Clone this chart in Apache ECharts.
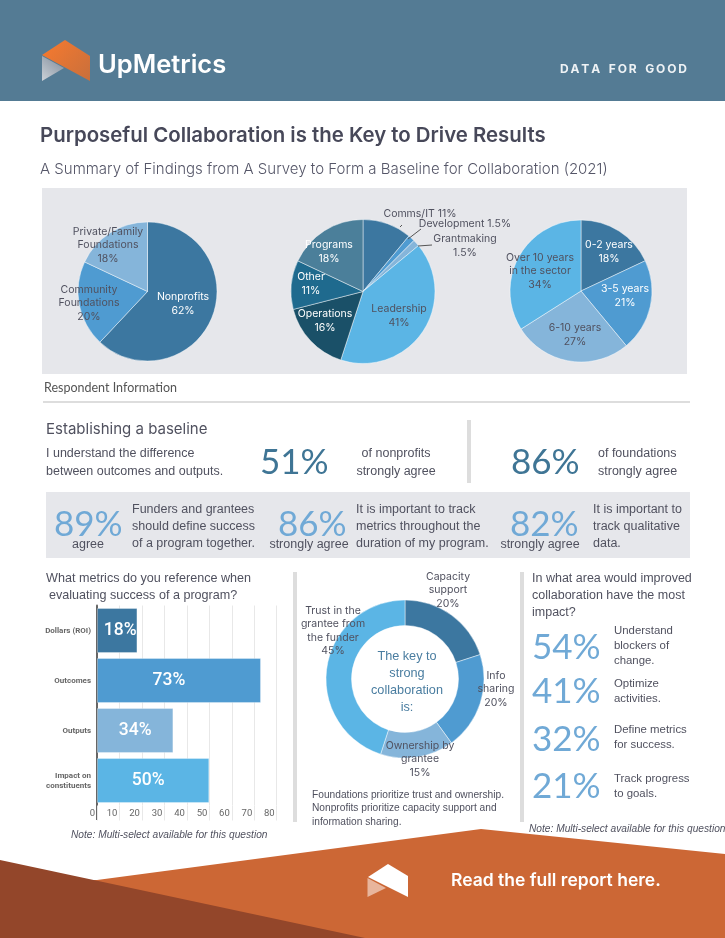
<!DOCTYPE html>
<html>
<head>
<meta charset="utf-8">
<style>
  html, body { margin: 0; padding: 0; background: #fff; }
  #chart-container { width: 725px; height: 938px; }
</style>
</head>
<body>
<div id="chart-container"></div>
<script src="https://cdn.jsdelivr.net/npm/echarts@6/dist/echarts.min.js"></script>
<script>
var dom = document.getElementById('chart-container');
var myChart = echarts.init(dom, null, { renderer: 'canvas' });

// data
var orgNames = ['Nonprofits', 'Community\nFoundations', 'Private/Family\nFoundations'];
var orgValues = [62, 20, 18];
var roleNames = ['Comms/IT', 'Development', 'Grantmaking', 'Leadership', 'Operations', 'Other', 'Programs'];
var roleValues = [11, 1.5, 1.5, 41, 16, 11, 18];
var tenureNames = ['0-2 years', '3-5 years', '6-10 years', 'Over 10 years\nin the sector'];
var tenureValues = [18, 21, 27, 34];
var keyNames = ['Capacity\nsupport', 'Info\nsharing', 'Ownership by\ngrantee', 'Trust in the\ngrantee from\nthe funder'];
var keyValues = [20, 20, 15, 45];
var metricNames = ['Dollars (ROI)', 'Outcomes', 'Outputs', 'Impact on\nconstituents'];
var metricValues = [18, 73, 34, 50];

// colours
var BLUE1 = '#3c77a0';
var BLUE2 = '#4f9bd1';
var BLUE3 = '#85b5da';
var BLUE4 = '#5bb5e5';
var INK = '#50515f';
var STAT = '#70a9d6';
var STAT_DARK = '#3f7595';
var GREY = '#e6e7eb';
var RULE = '#dddddd';

var orgColors = [BLUE1, BLUE2, BLUE3];
var roleColors = [BLUE1, BLUE2, BLUE3, BLUE4, '#1a5068', '#1f6a8e', '#4b7f9a'];
var tenureColors = [BLUE1, BLUE2, BLUE3, BLUE4];
var keyColors = [BLUE1, BLUE2, BLUE3, BLUE4];
var metricColors = [BLUE1, BLUE2, BLUE3, BLUE4];

// label anchors, page pixels
var orgLabelPos = [[183, 304], [89, 303], [108, 245]];
var roleLabelPos = [[420, 214], [465, 224], [465, 246], [399, 316], [325, 321], [311, 284], [329, 252]];
var tenureLabelPos = [[609, 252], [625, 296], [575, 335], [540, 271]];
var keyLabelPos = [[448, 590], [496, 689], [420, 759], [333, 631]];
var metricLabelShift = [[3, 0], [-10, 0], [0, 0], [-5, 0]];
var orgLabelColors = ['#fff', INK, INK];
var roleLabelColors = [INK, INK, INK, INK, '#fff', '#fff', '#fff'];
var tenureLabelColors = ['#fff', '#fff', INK, INK];
var oneLineNames = ['Comms/IT', 'Development'];

var POP = 'Inter';
var ARIAL = '"Liberation Sans"';
var BIG = 'Lato';

var makePie = (names, values, colors, labelColors, labelPos, center, radius) => {
  return {
    type: 'pie',
    center: center,
    radius: radius,
    startAngle: 90,
    silent: true,
    animation: false,
    avoidLabelOverlap: false,
    itemStyle: { borderColor: 'rgba(255,255,255,0.45)', borderWidth: 1 },
    label: {
      position: 'inside',
      fontFamily: POP,
      fontSize: 10.5,
      lineHeight: 13.5,
      formatter: (p) => {
        var sep = oneLineNames.indexOf(p.name) >= 0 ? ' ' : '\n';
        return p.name + sep + p.value + '%';
      },
    },
    labelLine: { show: false },
    labelLayout: (p) => {
      return {
        x: labelPos[p.dataIndex][0],
        y: labelPos[p.dataIndex][1],
        align: 'center',
        verticalAlign: 'middle',
      };
    },
    data: names.map((name, i) => {
      return {
        name: name,
        value: values[i],
        itemStyle: { color: colors[i] },
        label: { color: labelColors[i] },
      };
    }),
  };
};

// page text and shapes, all through the graphic component
var els = [];
var rect = (x, y, w, h, fill) => {
  els.push({ type: 'rect', z: 0, silent: true, shape: { x: x, y: y, width: w, height: h }, style: { fill: fill } });
};
var poly = (points, fill) => {
  els.push({ type: 'polygon', z: 0, silent: true, shape: { points: points }, style: { fill: fill } });
};
var line = (points) => {
  els.push({ type: 'polyline', z: 20, silent: true, shape: { points: points }, style: { stroke: '#555', lineWidth: 1, fill: null } });
};
var text = (x, y, str, font, fill, align) => {
  els.push({
    type: 'text',
    z: 30,
    silent: true,
    x: x,
    y: y,
    style: { text: str, font: font, fill: fill || INK, textAlign: align || 'left', textVerticalAlign: 'middle' },
  });
};
var lines = (x, y, step, arr, font, fill, align) => {
  arr.forEach((s, i) => text(x, y + i * step, s, font, fill, align));
};

// header
rect(0, 0, 725, 101, '#547b94');
poly([[42, 55], [65, 40], [90, 56], [90, 81], [42, 55]], new echarts.graphic.LinearGradient(0, 0, 1, 1, [
  { offset: 0, color: '#f87a2e' },
  { offset: 1, color: '#c86f3c' },
]));
poly([[42, 56], [64, 68], [42, 81]], new echarts.graphic.LinearGradient(1, 0, 0, 1, [
  { offset: 0, color: '#7d8a99' },
  { offset: 1, color: '#ccd2d8' },
]));
text(98, 65, 'UpMetrics', '600 25.5px ' + POP, '#fff');
text(687, 69, 'D\u2009A\u2009T\u2009A   F\u2009O\u2009R   G\u2009O\u2009O\u2009D', '700 12px ' + POP, '#eef2f5', 'right');

// titles
text(40, 136, 'Purposeful Collaboration is the Key to Drive Results', '600 20.4px ' + POP, '#474859');
text(40, 169, 'A Summary of Findings from A Survey to Form a Baseline for Collaboration (2021)', '300 15px ' + POP, '#555668');

// respondent panel
rect(42, 188, 645, 186, GREY);
text(44, 388, 'Respondent Information', '12.5px ' + BIG, '#555');
rect(43, 401, 647, 2, RULE);
line([[400, 227], [402, 225]]);
line([[408, 239], [421, 229]]);
line([[418, 246], [432, 245]]);

// establishing a baseline
text(46, 429, 'Establishing a baseline', '15px ' + POP, INK);
lines(46, 454, 18, ['I understand the difference', 'between outcomes and outputs.'], '12.5px ' + ARIAL);
text(260, 463, '51%', '35px ' + BIG, STAT_DARK);
lines(396, 454, 18, ['of nonprofits', 'strongly agree'], '12.5px ' + ARIAL, INK, 'center');
rect(467, 420, 4, 63, RULE);
text(511, 463, '86%', '35px ' + BIG, STAT_DARK);
lines(598, 454, 18, ['of foundations', 'strongly agree'], '12.5px ' + ARIAL);

rect(46, 492, 644, 66, GREY);
text(54, 525, '89%', '35px ' + BIG, STAT);
text(88, 545, 'agree', '12.5px ' + ARIAL, INK, 'center');
lines(132, 510, 17, ['Funders and grantees', 'should define success', 'of a program together.'], '12.5px ' + ARIAL);
text(278, 525, '86%', '35px ' + BIG, STAT);
text(309, 545, 'strongly agree', '12.5px ' + ARIAL, INK, 'center');
lines(356, 510, 17, ['It is important to track', 'metrics throughout the', 'duration of my program.'], '12.5px ' + ARIAL);
text(510, 525, '82%', '35px ' + BIG, STAT);
text(540, 545, 'strongly agree', '12.5px ' + ARIAL, INK, 'center');
lines(593, 510, 17, ['It is important to', 'track qualitative', 'data.'], '12.5px ' + ARIAL);

// bar column
text(46, 579, 'What metrics do you reference when', '12.6px ' + ARIAL);
text(49, 596, 'evaluating success of a program?', '12.6px ' + ARIAL);
rect(96, 805, 2, 15, '#666');
text(71, 835, 'Note: Multi-select available for this question', 'italic 10.2px ' + ARIAL);

// donut column
rect(293, 572, 4, 250, RULE);
rect(520, 572, 4, 250, RULE);
lines(407, 656, 17, ['The key to', 'strong', 'collaboration', 'is:'], '12.7px ' + ARIAL, '#4a7da0', 'center');
lines(312, 795, 13.5, ['Foundations prioritize trust and ownership.', 'Nonprofits prioritize capacity support and', 'information sharing.'], '10.2px ' + ARIAL);

// right column
lines(532, 579, 17, ['In what area would improved', 'collaboration have the most', 'impact?'], '12.5px ' + ARIAL);
text(532, 648, '54%', '35px ' + BIG, STAT);
text(532, 692, '41%', '35px ' + BIG, STAT);
text(532, 740, '32%', '35px ' + BIG, STAT);
text(532, 787, '21%', '35px ' + BIG, STAT);
lines(614, 631, 15, ['Understand', 'blockers of', 'change.'], '11.4px ' + ARIAL);
lines(614, 684, 15, ['Optimize', 'activities.'], '11.4px ' + ARIAL);
lines(614, 730, 15, ['Define metrics', 'for success.'], '11.4px ' + ARIAL);
lines(614, 779, 15, ['Track progress', 'to goals.'], '11.4px ' + ARIAL);
text(529, 829, 'Note: Multi-select available for this question', 'italic 10.2px ' + ARIAL);

// footer
poly([[97, 880], [481, 829], [725, 854], [725, 938], [0, 938], [0, 880]], '#cc6735');
poly([[0, 860], [365, 938], [0, 938]], '#93462a');
poly([[368, 877], [388, 864], [408, 876], [408, 897]], '#ffffff');
poly([[367.5, 878], [386, 888], [367.5, 897]], '#e8b59c');
text(451, 881, 'Read the full report here.', '600 17.5px ' + POP, '#fff');

var option = {
  animation: false,
  graphic: { elements: els },
  grid: { left: 97, top: 605.5, width: 179.7, height: 200 },
  xAxis: {
    type: 'value',
    min: 0,
    max: 80,
    interval: 10,
    position: 'bottom',
    axisLine: { show: false },
    axisTick: { show: true, length: 15, lineStyle: { color: '#e8e8e8' } },
    splitLine: { show: true, lineStyle: { color: '#e8e8e8' } },
    axisLabel: {
      margin: 3,
      align: 'right',
      padding: [0, 2, 0, 0],
      fontFamily: 'Roboto',
      fontSize: 9.5,
      color: '#666',
    },
  },
  yAxis: {
    type: 'category',
    inverse: true,
    data: metricNames,
    axisLine: { lineStyle: { color: '#666', width: 2 } },
    axisTick: { show: false },
    axisLabel: {
      margin: 6,
      fontFamily: 'Roboto',
      fontWeight: 'bold',
      fontSize: 8,
      lineHeight: 10,
      color: '#666',
    },
  },
  series: [
    makePie(orgNames, orgValues, orgColors, orgLabelColors, orgLabelPos, [147.5, 291.5], 69.5),
    makePie(roleNames, roleValues, roleColors, roleLabelColors, roleLabelPos, [363, 291.5], 72),
    makePie(tenureNames, tenureValues, tenureColors, tenureLabelColors, tenureLabelPos, [581, 291], 71),
    makePie(keyNames, keyValues, keyColors, keyNames.map(() => INK), keyLabelPos, [405, 679], [53.5, 79]),
    {
      type: 'bar',
      silent: true,
      barWidth: 45,
      data: metricValues.map((v, i) => {
        return { value: v, itemStyle: { color: metricColors[i] }, label: { offset: metricLabelShift[i] } };
      }),
      itemStyle: { borderColor: 'rgba(255,255,255,0.3)', borderWidth: 1 },
      label: {
        show: true,
        position: 'inside',
        formatter: '{c}%',
        fontFamily: 'Roboto',
        fontWeight: 500,
        fontSize: 17.5,
        color: '#fff',
      },
    },
  ],
};

if (option && typeof option === 'object') {
  myChart.setOption(option);
}

window.addEventListener('resize', myChart.resize);
</script>
</body>
</html>
